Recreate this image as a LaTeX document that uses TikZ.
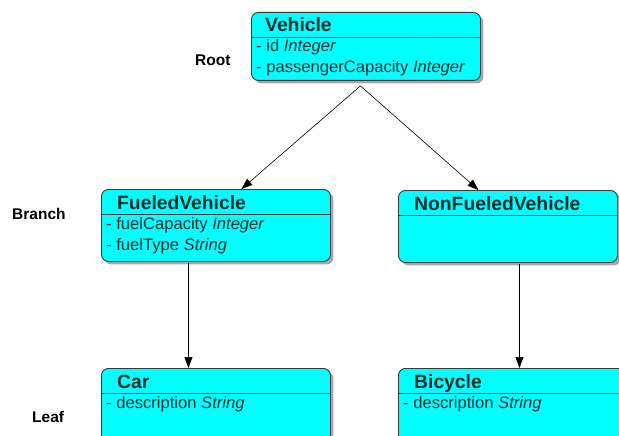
\documentclass[tikz,border=0pt]{standalone}
\usepackage{fontspec}
\setmainfont{Liberation Sans}
\usetikzlibrary{shadows,arrows.meta}
\definecolor{boxfill}{RGB}{0,255,255}
\definecolor{boxline}{RGB}{50,60,60}
\definecolor{boxtext}{RGB}{10,45,45}
\tikzset{
  classbox/.style={draw=boxline, line width=0.9pt, fill=boxfill, rounded corners=7pt,
    anchor=north west, inner sep=0pt,
    drop shadow={shadow xshift=3pt, shadow yshift=-3pt, fill=black!35, opacity=1}},
  title/.style={anchor=base west, inner sep=0pt, text=boxtext,
    font=\fontsize{19.3}{21}\selectfont\bfseries},
  attr/.style={anchor=base west, inner sep=0pt, text=boxtext,
    font=\fontsize{16.6}{18}\selectfont},
  level/.style={anchor=base west, inner sep=0pt, text=black,
    font=\fontsize{15.5}{18}\selectfont\bfseries},
  arr/.style={draw=black, line width=0.6pt, -{Triangle[length=11pt,width=8pt]}}
}
\begin{document}
\begin{tikzpicture}[x=1pt,y=-1pt]
\useasboundingbox (0,0) rectangle (619,436);
\clip (0,0) rectangle (619,436);
% boxes
\node[classbox, minimum width=229pt, minimum height=68pt] (vehicle) at (251,12) {};
\node[classbox, minimum width=229pt, minimum height=72pt] (fueled) at (101,189) {};
\node[classbox, minimum width=219pt, minimum height=72pt] (nonfueled) at (398,190) {};
\node[classbox, minimum width=229pt, minimum height=90pt] (car) at (101,368) {};
\node[classbox, minimum width=229pt, minimum height=90pt] (bicycle) at (398,368) {};
% header lines
\foreach \b in {vehicle,fueled,nonfueled,car,bicycle}{
  \draw[boxline, line width=0.9pt] ([yshift=-25.5pt]\b.north west) -- ([yshift=-25.5pt]\b.north east);
}
% titles
\node[title] (tv) at ([xshift=14pt,yshift=-19.5pt]vehicle.north west) {Vehicle};
\node[title] (tf) at ([xshift=16pt,yshift=-20.5pt]fueled.north west) {FueledVehicle};
\node[title] (tn) at ([xshift=16pt,yshift=-20.5pt]nonfueled.north west) {NonFueledVehicle};
\node[title] (tc) at ([xshift=16pt,yshift=-20pt]car.north west) {Car};
\node[title] (tb) at ([xshift=16pt,yshift=-20pt]bicycle.north west) {Bicycle};
% attributes
\node[attr] (va1) at ([xshift=5pt,yshift=-40pt]vehicle.north west) {- id \textit{Integer}};
\node[attr] (va2) at ([xshift=5pt,yshift=-61pt]vehicle.north west) {- passengerCapacity \textit{Integer}};
\node[attr] (fa1) at ([xshift=5pt,yshift=-40pt]fueled.north west) {- fuelCapacity \textit{Integer}};
\node[attr] (fa2) at ([xshift=5pt,yshift=-61pt]fueled.north west) {- fuelType \textit{String}};
\node[attr] (ca1) at ([xshift=5pt,yshift=-40pt]car.north west) {- description \textit{String}};
\node[attr] (ba1) at ([xshift=5pt,yshift=-40pt]bicycle.north west) {- description \textit{String}};
% level labels
\node[level] (root) at (195,66) {Root};
\node[level] (branch) at (12,219) {Branch};
\node[level] (leaf) at (32,422) {Leaf};
% connectors
\draw[arr] ([xshift=-5.5pt,yshift=-5pt]vehicle.south) -- ([xshift=25.5pt]fueled.north);
\draw[arr] ([xshift=-5.5pt,yshift=-5pt]vehicle.south) -- ([xshift=-29.5pt]nonfueled.north);
\draw[arr] ([xshift=-27.5pt,yshift=-1pt]fueled.south) -- ([xshift=-27.5pt]fueled.south |- car.north);
\draw[arr] ([xshift=11.5pt,yshift=-1pt]nonfueled.south) -- ([xshift=11.5pt]nonfueled.south |- bicycle.north);
\end{tikzpicture}
\end{document}
